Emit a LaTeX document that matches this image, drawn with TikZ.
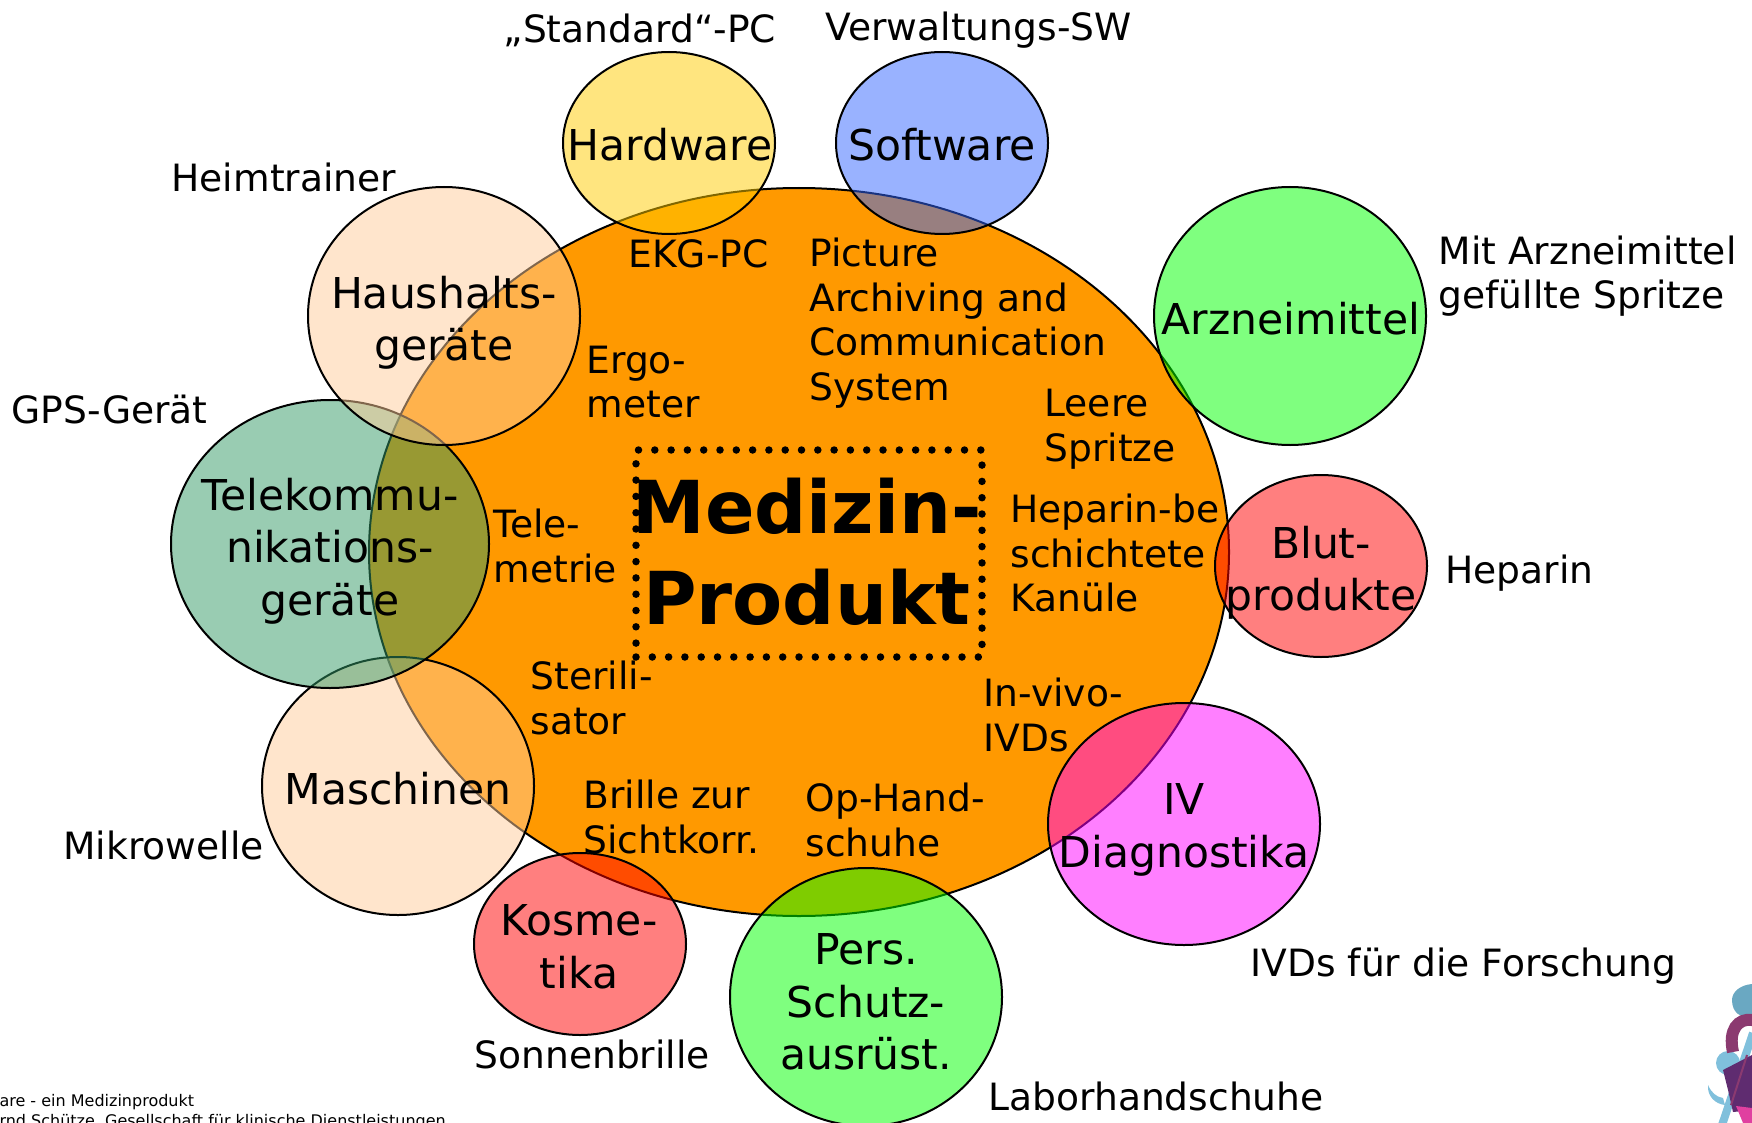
\documentclass[tikz,border=0pt]{standalone}
\usepackage{fontspec}
\setmainfont{DejaVu Sans}
\usetikzlibrary{shapes.geometric}
\definecolor{medorange}{HTML}{FF9900}
\definecolor{hwyellow}{HTML}{FFCC00}
\definecolor{swblue}{HTML}{3366FF}
\definecolor{hhpeach}{HTML}{FFCC99}
\definecolor{telegreen}{HTML}{339966}
\definecolor{puregreen}{HTML}{00FF00}
\definecolor{purered}{HTML}{FF0000}
\definecolor{puremagenta}{HTML}{FF00FF}
\definecolor{logoteal}{HTML}{6AA8C2}
\definecolor{logoblue}{HTML}{80C0DC}
\definecolor{logoplum}{HTML}{8B3A70}
\definecolor{logodark}{HTML}{5F2C70}
\definecolor{logopink}{HTML}{E040A0}
\tikzset{
  blob/.style={ellipse, draw=black, line width=2pt, fill opacity=0.5, inner sep=0pt},
  bigtext/.style={font=\fontsize{42.5}{52.5}\selectfont, align=center},
  smalltext/.style={font=\fontsize{37.6}{44.7}\selectfont, align=left, anchor=west},
  notetext/.style={font=\fontsize{16}{20}\selectfont, anchor=west}
}
\begin{document}
\begin{tikzpicture}[x=1pt,y=-1pt]
    \useasboundingbox (0,0) rectangle (1752,1123);

    %Main ellipse
    \node[ellipse, draw=black, line width=2pt, fill=medorange, minimum width=860pt, minimum height=728pt, inner sep=0pt] (medizin) at (799,552) {};

    %Circles
    \node[blob, fill=hwyellow, minimum width=212pt, minimum height=182pt] (hardware) at (669,143) {};
    \node[blob, fill=swblue, minimum width=212pt, minimum height=182pt] (software) at (942,143) {};
    \node[blob, fill=puregreen, minimum width=272pt, minimum height=258pt] (arznei) at (1290,316) {};
    \node[blob, fill=purered, minimum width=212pt, minimum height=182pt] (blut) at (1321,566) {};
    \node[blob, fill=puremagenta, minimum width=272pt, minimum height=242pt] (ivd) at (1184,824) {};
    \node[blob, fill=puregreen, minimum width=272pt, minimum height=258pt] (schutz) at (866,997) {};
    \node[blob, fill=purered, minimum width=212pt, minimum height=182pt] (kosmetik) at (580,944) {};
    \node[blob, fill=hhpeach, minimum width=272pt, minimum height=258pt] (maschinen) at (398,786) {};
    \node[blob, fill=telegreen, minimum width=318pt, minimum height=288pt] (telekom) at (330,544) {};
    \node[blob, fill=hhpeach, minimum width=272pt, minimum height=258pt] (haushalt) at (444,316) {};

    %Box
    \node[draw=black, line width=7.5pt, line cap=round, dash pattern=on 0pt off 16.3pt, minimum width=346pt, minimum height=207pt, inner sep=0pt] (medbox) at (809,553.5) {};
    \node[font=\fontsize{73}{91}\selectfont\bfseries, align=center] (medtext) at (807,552) {Medizin-\\Produkt};

    %Circle labels
    \node[bigtext] (hardwaretext) at (670,145) {Hardware};
    \node[bigtext] (softwaretext) at (942,145) {Software};
    \node[bigtext] (arzneitext) at (1291,319) {Arzneimittel};
    \node[bigtext] (bluttext) at (1321,573) {Blut-\\produkte};
    \node[bigtext] (ivdtext) at (1184,830) {IV\\Diagnostika};
    \node[bigtext] (schutztext) at (866,1002) {Pers.\\Schutz-\\ausrüst.};
    \node[bigtext] (kosmetiktext) at (579,947) {Kosme-\\tika};
    \node[bigtext] (maschinentext) at (398,789) {Maschinen};
    \node[bigtext] (telekomtext) at (330,551) {Telekommu-\\nikations-\\geräte};
    \node[bigtext] (haushalttext) at (444,323) {Haushalts-\\geräte};

    %Inner labels
    \node[smalltext] (ekg) at (625,254) {EKG-PC};
    \node[smalltext] (pacs) at (806,323) {Picture\\Archiving and\\Communication\\System};
    \node[smalltext] (ergo) at (583,382) {Ergo-\\meter};
    \node[smalltext] (leer) at (1041,429) {Leere\\Spritze};
    \node[smalltext] (kanuele) at (1007,553) {Heparin-be\\schichtete\\Kanüle};
    \node[smalltext] (tele) at (490,546) {Tele-\\metrie};
    \node[smalltext] (steril) at (527,698) {Sterili-\\sator};
    \node[smalltext] (invivo) at (980,715) {In-vivo-\\IVDs};
    \node[smalltext] (brille) at (580,817) {Brille zur\\Sichtkorr.};
    \node[smalltext] (ophand) at (802,820) {Op-Hand-\\schuhe};

    %Outer labels
    \node[smalltext] (stdpc) at (500,30) {„Standard“-PC};
    \node[smalltext] (verw) at (822,30) {Verwaltungs-SW};
    \node[smalltext] (heim) at (168,177) {Heimtrainer};
    \node[smalltext] (mitarz) at (1435,276) {Mit Arzneimittel\\gefüllte Spritze};
    \node[smalltext] (heparin) at (1442,573) {Heparin};
    \node[smalltext] (ivdforsch) at (1247,966) {IVDs für die Forschung};
    \node[smalltext] (labor) at (985,1096) {Laborhandschuhe};
    \node[smalltext] (sonne) at (471,1054) {Sonnenbrille};
    \node[smalltext] (mikro) at (60,845) {Mikrowelle};
    \node[smalltext] (gps) at (8,410) {GPS-Gerät};

    %Footer
    \node[notetext] (foot1) at (-4,1102) {are - ein Medizinprodukt};
    \node[notetext] (foot2) at (-4,1122) {rnd Schütze, Gesellschaft für klinische Dienstleistungen};

    %Logo
    \fill[logoteal] (1752,984) .. controls (1740,985) and (1732,992) .. (1732,1000) .. controls (1732,1012) and (1740,1019) .. (1752,1016) -- cycle;
    \fill[logoblue] (1728,1063) circle (12);
    \fill[logoblue] (1708,1085) .. controls (1707,1096) and (1715,1104) .. (1725,1105) -- (1723,1098) .. controls (1716,1097) and (1711,1092) .. (1708,1085) -- cycle;
    \draw[logoblue, line width=8pt] (1722,1125) -- (1753,1033);
    \draw[logoplum, line width=12pt] (1733,1052) .. controls (1728,1030) and (1738,1018) .. (1752,1020);
    \fill[logodark] (1723,1070) -- (1752,1055) -- (1752,1110) -- (1733,1112) -- (1728,1090) -- cycle;
    \fill[logopink] (1736,1106) -- (1752,1108) -- (1752,1123) -- (1743,1123) -- cycle;
    \draw[logoplum, line width=2pt] (1731,1105) -- (1747,1055);
\end{tikzpicture}
\end{document}
